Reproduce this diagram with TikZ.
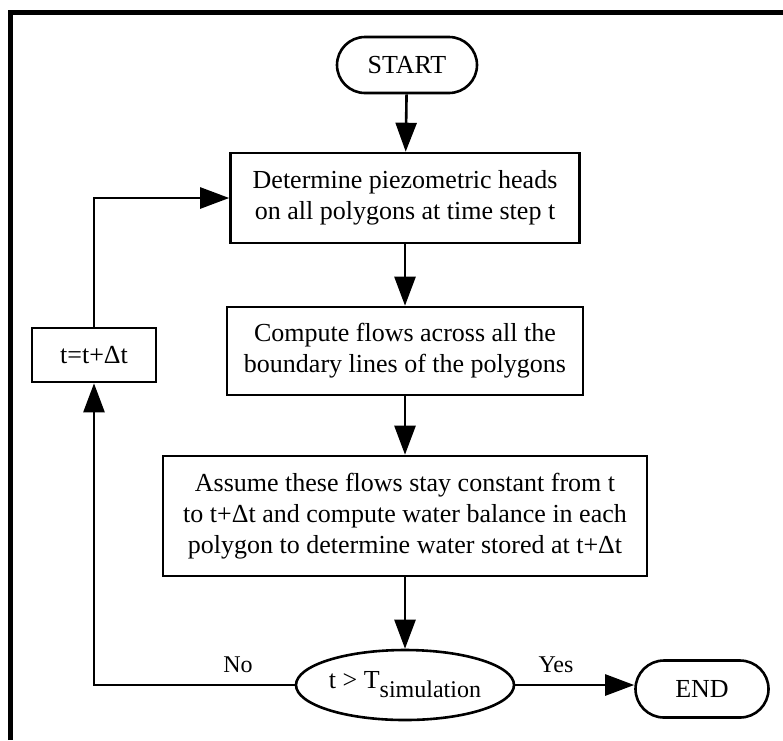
\documentclass[tikz,border=0pt]{standalone}
\usepackage{fontspec}
\setmainfont{Liberation Serif}
\usetikzlibrary{shapes.misc,shapes.geometric,arrows.meta}
\begin{document}
\begin{tikzpicture}[x=1pt,y=-1pt,
  every node/.style={font=\fontsize{26}{31}\selectfont, align=center, inner sep=0pt},
  box/.style={draw, line width=2.6pt},
  term/.style={draw, line width=2.6pt, rounded rectangle},
  conn/.style={line width=2.6pt},
  arr/.style={conn, -{Triangle[length=29pt,width=21pt]}},
  lbl/.style={font=\fontsize{24}{26}\selectfont}
]
\useasboundingbox (0,0) rectangle (783,740);
\draw[line width=5.5pt] (10.5,740) -- (10.5,12.5) -- (783,12.5);

\node[term, minimum width=140pt, minimum height=56pt] (start) at (407,65) {START};
\node[box, minimum width=349pt, minimum height=90pt] (b1) at (405,198)
  {Determine piezometric heads\\on all polygons at time step t};
\node[box, minimum width=356pt, minimum height=88pt] (b2) at (405,351)
  {Compute flows across all the\\boundary lines of the polygons};
\node[box, minimum width=484pt, minimum height=120pt] (b3) at (405,516)
  {Assume these flows stay constant from t\\to t+Δt and compute water balance in each\\polygon to determine water stored at t+Δt};
\node[draw, ellipse, line width=2.6pt, inner xsep=-20pt, inner ysep=-8pt,
      minimum width=218pt, minimum height=70pt] (ell) at (405,685)
  {t > T\raisebox{-0.35em}{\fontsize{24}{26}\selectfont simulation}};
\node[term, minimum width=133pt, minimum height=57pt] (end) at (702,689) {END};
\node[box, minimum width=124pt, minimum height=54pt] (tb) at (94,355) {t=t+Δt};

\draw[arr] (start) -- (b1);
\draw[arr] (b1) -- (b2);
\draw[arr] (b2) -- (b3);
\draw[arr] (b3) -- (ell);
\draw[arr] (ell.east) -- (end.west |- ell.east);
\draw[arr] (ell.west) -| (tb.south);
\draw[arr] (tb.north) |- (b1.west);

\node[lbl] (no) at (238,665) {No};
\node[lbl] (yes) at (556,665) {Yes};
\end{tikzpicture}
\end{document}
